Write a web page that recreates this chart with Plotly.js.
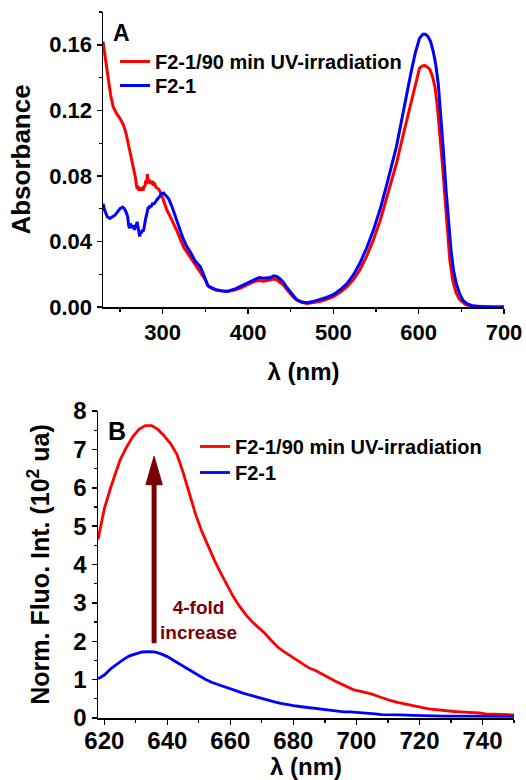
<!DOCTYPE html>
<html>
<head>
<meta charset="utf-8">
<script src="https://cdn.plot.ly/plotly-3.0.1.min.js"></script>
<style>html,body{margin:0;padding:0;background:#fff;}#chart{width:526px;height:780px;}</style>
</head>
<body>
<div id="chart"></div>
<script>
// ---------- Panel A : absorbance ----------
const seriesNames = ["F2-1/90 min UV-irradiation", "F2-1"];

const wlA_uv = [230,233,236,239,242,246,250,254,257,260,262,264,266,268,269,270,271,272,273,274,276,277,278,279,280,281,282,283,284,285,286,287,288,289,290,292,295,298,301,305,309,313,317,321,325,329,334,340,345,350,353,356,362,370,376,385,391,400,407,413,418,424,430,434,438,441.5,445,449,453,457,463,469,476,484,492,500,508,516,524,531,539,547,555,562,568,574,580,586,591,596,601,604,607,610,613,616,619,622,625,628,631,634,636.5,640,644,648,655,662,670,685,700];
const absA_uv = [0.162,0.150,0.138,0.129,0.122,0.118,0.115,0.111,0.106,0.099,0.093,0.088,0.084,0.079,0.075,0.072,0.074,0.071,0.073,0.071,0.073,0.071,0.074,0.073,0.077,0.075,0.081,0.076,0.078,0.075,0.077,0.075,0.077,0.074,0.076,0.073,0.072,0.0695,0.065,0.059,0.055,0.051,0.046,0.041,0.036,0.033,0.029,0.0245,0.020,0.0165,0.013,0.0118,0.0103,0.0096,0.0094,0.0105,0.0116,0.0138,0.0155,0.0162,0.0158,0.0163,0.0170,0.0165,0.0150,0.0134,0.011,0.0084,0.006,0.0043,0.0028,0.0022,0.0025,0.0033,0.0046,0.0063,0.0090,0.0124,0.0170,0.0226,0.031,0.041,0.053,0.0653,0.076,0.0877,0.101,0.114,0.126,0.1366,0.1458,0.147,0.1474,0.1465,0.145,0.141,0.1346,0.122,0.106,0.086,0.0653,0.045,0.0287,0.016,0.0084,0.0045,0.0015,0.0006,0.0003,0.0001,0];

const wlA_ctl = [230,232,235,238,241,244,247,250,253,255,257,259,260,261,262,263,264,265,266,267,268,269,270,271,272,273,274,275,276,277,278,279,280,281,282,283,284,285,286,288,290,292,294,296,298,301,304,307,311,315,319,323,328,333,338,344,347,350,353,357,363,370,376,385,391,400,407,413,418,422,426,430,434,438,441.5,445,449,453,457,463,469,476,484,492,500,508,516,524,531,539,547,555,562,568,574,580,586,591,596,601,605,608,611,614,617,620,623,626,629,632,635,638,641,644,648,652,657,663,672,685,700];
const absA_ctl = [0.063,0.059,0.055,0.054,0.055,0.056,0.058,0.060,0.061,0.060,0.058,0.055,0.050,0.048,0.051,0.049,0.050,0.048,0.050,0.047,0.049,0.050,0.052,0.049,0.046,0.043,0.046,0.045,0.047,0.046,0.048,0.052,0.054,0.056,0.059,0.061,0.060,0.062,0.061,0.063,0.063,0.065,0.066,0.067,0.069,0.0695,0.068,0.066,0.061,0.055,0.049,0.043,0.037,0.033,0.028,0.0246,0.021,0.0165,0.013,0.0118,0.0105,0.0098,0.0096,0.011,0.0125,0.0148,0.0165,0.018,0.0176,0.018,0.018,0.019,0.0185,0.017,0.015,0.0123,0.0096,0.0068,0.0045,0.003,0.0026,0.0033,0.0045,0.0058,0.0075,0.0105,0.0143,0.020,0.0267,0.036,0.047,0.060,0.0735,0.085,0.098,0.114,0.1305,0.143,0.155,0.164,0.1665,0.1665,0.165,0.162,0.156,0.148,0.136,0.117,0.095,0.072,0.050,0.034,0.022,0.0145,0.008,0.004,0.0018,0.0008,0.0002,0.0001,0];

const ticksA_y = [0, 0.04, 0.08, 0.12, 0.16];
const ticksA_x = [300, 400, 500, 600, 700];

// ---------- Panel B : fluorescence ----------
const wlB_uv = [618,620,622,625,627,629,631,633,635,637,639,641,643,645,647,649,651,653,655,657,659,661,663,665,667,669,671,673,675,677,679,681,683,685,687,689,691,693,695,697,699,701,703,705,707,709,711,713,715,717,719,721,723,725,727,729,731,733,735,737,739,741,743,745,747,750];
const fluoB_uv = [4.65,5.45,6.0,6.72,7.05,7.33,7.52,7.62,7.62,7.52,7.35,7.15,6.88,6.4,5.85,5.3,4.85,4.45,4.1,3.77,3.45,3.15,2.9,2.68,2.5,2.35,2.2,2.02,1.85,1.73,1.62,1.52,1.4,1.3,1.24,1.16,1.06,0.97,0.89,0.8,0.74,0.7,0.66,0.62,0.56,0.5,0.45,0.41,0.37,0.34,0.3,0.27,0.24,0.22,0.2,0.18,0.17,0.16,0.15,0.15,0.13,0.11,0.1,0.09,0.09,0.08];

const wlB_ctl = [618,620,622,624,626,628,630,632,634,636,638,640,642,644,646,648,650,652,654,656,658,660,662,664,666,668,670,672,674,676,678,680,682,684,686,688,690,692,694,696,698,700,702,704,706,708,710,714,718,722,728,735,742,750];
const fluoB_ctl = [1.02,1.12,1.28,1.41,1.52,1.62,1.68,1.72,1.73,1.72,1.67,1.6,1.5,1.4,1.3,1.2,1.1,1.01,0.93,0.87,0.82,0.76,0.71,0.65,0.6,0.55,0.51,0.47,0.42,0.38,0.34,0.32,0.3,0.28,0.26,0.24,0.22,0.2,0.17,0.16,0.16,0.15,0.14,0.12,0.11,0.09,0.09,0.08,0.07,0.06,0.05,0.05,0.04,0.04];

const ticksB_y = [0,1,2,3,4,5,6,7,8];
const ticksB_x = [620,640,660,680,700,720,740];

// arrow annotation (data coordinates of panel B)
const arrowX = 635.8;
const arrowFrom = 1.95;
const arrowTo = 6.82;
const arrowHeadBase = 6.08;
const arrowHeadHalf = 2.6;
const foldLabel = "4-fold<br>increase";

const FONT = "Liberation Sans, Arial, Helvetica, sans-serif";
const RED = "#ff0000", BLUE = "#0000ff", DARK = "#7a0000";

const traces = [
  {x: wlA_uv, y: absA_uv, name: seriesNames[0], type: "scatter", mode: "lines", line: {color: RED, width: 3}, xaxis: "x", yaxis: "y", legend: "legend"},
  {x: wlA_ctl, y: absA_ctl, name: seriesNames[1], type: "scatter", mode: "lines", line: {color: BLUE, width: 3}, xaxis: "x", yaxis: "y", legend: "legend2"},
  {x: wlB_uv, y: fluoB_uv, name: seriesNames[0], type: "scatter", mode: "lines", line: {color: RED, width: 2.8}, xaxis: "x2", yaxis: "y2", legend: "legend3"},
  {x: wlB_ctl, y: fluoB_ctl, name: seriesNames[1], type: "scatter", mode: "lines", line: {color: BLUE, width: 2.8}, xaxis: "x2", yaxis: "y2", legend: "legend4"}
];

const W = 526, H = 780;
const px = v => v / W;
const py = v => 1 - v / H;

function axisBase(extra) {
  return Object.assign({
    showline: true, linecolor: "#000", linewidth: 1.5, mirror: false,
    showgrid: false, zeroline: false,
    ticks: "outside", ticklen: 5, tickwidth: 1.5, tickcolor: "#000",
    tickfont: {family: FONT, size: 22, color: "#000", weight: "bold"},
    fixedrange: true
  }, extra);
}

function legendAt(left, top, size) {
  return {x: px(left), y: py(top), xanchor: "left", yanchor: "top", bgcolor: "rgba(0,0,0,0)", borderwidth: 0,
    font: {family: FONT, size: size, color: "#000", weight: "bold"}, tracegroupgap: 0};
}

const layout = {
  width: W, height: H,
  margin: {l: 0, r: 0, t: 0, b: 0},
  paper_bgcolor: "#fff", plot_bgcolor: "#fff",
  showlegend: true,
  xaxis: axisBase({domain: [px(103), px(504)], range: [230, 700], tickvals: ticksA_x, anchor: "y",
    minor: {dtick: 50, tick0: 250, ticks: "outside", ticklen: 3, tickwidth: 1.2, tickcolor: "#000"},
    title: {text: "λ (nm)", standoff: 19, font: {family: FONT, size: 24, color: "#000", weight: "bold"}}}),
  yaxis: axisBase({domain: [py(307), py(12)], range: [0, 0.18], tickvals: ticksA_y, tickformat: ".2f", anchor: "x",
    minor: {dtick: 0.02, tick0: 0, ticks: "outside", ticklen: 3, tickwidth: 1.2, tickcolor: "#000"},
    title: {text: "Absorbance", standoff: 11, font: {family: FONT, size: 26, color: "#000", weight: "bold"}}}),
  xaxis2: axisBase({domain: [px(98), px(514)], range: [618, 750], tickvals: ticksB_x, anchor: "y2",
    ticklabelstandoff: -4,
    tickfont: {family: FONT, size: 24, color: "#000", weight: "bold"},
    minor: {dtick: 10, tick0: 620, ticks: "outside", ticklen: 3, tickwidth: 1.2, tickcolor: "#000"},
    title: {text: "λ (nm)", standoff: 6, font: {family: FONT, size: 24, color: "#000", weight: "bold"}}}),
  yaxis2: axisBase({domain: [py(718), py(411)], range: [0, 8], tickvals: ticksB_y, anchor: "x2",
    tickfont: {family: FONT, size: 24, color: "#000", weight: "bold"},
    minor: {dtick: 0.5, tick0: 0, ticks: "outside", ticklen: 3, tickwidth: 1.2, tickcolor: "#000"},
    title: {text: "Norm. Fluo. Int. (10<sup>2</sup> ua)", standoff: 16, font: {family: FONT, size: 25, color: "#000", weight: "bold"}}}),
  legend: legendAt(115, 42, 20),
  legend2: legendAt(115, 66, 20),
  legend3: legendAt(195, 427, 20),
  legend4: legendAt(195, 453, 20),
  annotations: [
    {text: "A", xref: "paper", yref: "paper", x: px(111), y: py(33), xanchor: "left", yanchor: "middle", showarrow: false,
      font: {family: FONT, size: 23, color: "#000", weight: "bold"}},
    {text: "B", xref: "paper", yref: "paper", x: px(106), y: py(431), xanchor: "left", yanchor: "middle", showarrow: false,
      font: {family: FONT, size: 25, color: "#000", weight: "bold"}},
    {text: foldLabel, xref: "x2", yref: "y2", x: 650, y: 2.55, xanchor: "center", yanchor: "middle", showarrow: false,
      align: "center", font: {family: FONT, size: 19, color: DARK, weight: "bold"}}
  ],
  shapes: [
    {type: "line", xref: "x2", yref: "y2", x0: arrowX, x1: arrowX, y0: arrowFrom, y1: arrowHeadBase + 0.05,
      line: {color: DARK, width: 5}},
    {type: "path", xref: "x2", yref: "y2",
      path: "M" + (arrowX - arrowHeadHalf) + "," + arrowHeadBase + " L" + (arrowX + arrowHeadHalf) + "," + arrowHeadBase + " L" + arrowX + "," + arrowTo + " Z",
      fillcolor: DARK, line: {color: DARK, width: 1}}
  ]
};

Plotly.newPlot("chart", traces, layout, {displayModeBar: false, staticPlot: true});
</script>
</body>
</html>
